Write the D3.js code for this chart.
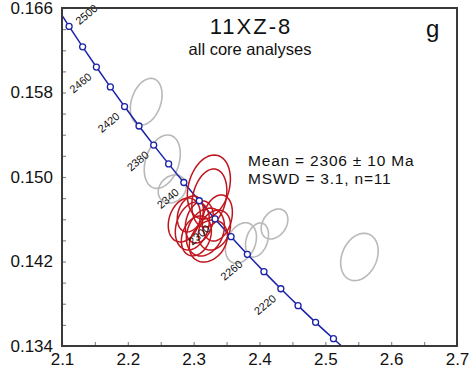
<!DOCTYPE html>
<html>
<head>
<meta charset="utf-8">
<script src="https://cdn.jsdelivr.net/npm/d3@7"></script>
<style>
  body { margin: 0; background: #fff; }
  svg { display: block; font-family: "Liberation Sans", Arial, sans-serif; }
</style>
</head>
<body>
<div id="chart"></div>
<script>
// concordia (Tera-Wasserburg): age in Ma, 238U/206Pb, 207Pb/206Pb
const concordiaAge = [2140, 2160, 2180, 2200, 2220, 2240, 2260, 2280, 2300, 2320,
  2340, 2360, 2380, 2400, 2420, 2440, 2460, 2480, 2500, 2520];
const concordiaX = [2.53996, 2.51232, 2.48520, 2.45857, 2.43242, 2.40674, 2.38155, 2.35679, 2.33246, 2.30855,
  2.28506, 2.26197, 2.23927, 2.21696, 2.19502, 2.17344, 2.15222, 2.13134, 2.11080, 2.09059];
const concordiaY = [0.13316, 0.13469, 0.13624, 0.13782, 0.13942, 0.14104, 0.14268, 0.14435, 0.14603, 0.14775,
  0.14948, 0.15124, 0.15302, 0.15483, 0.15667, 0.15853, 0.16041, 0.16232, 0.16426, 0.16623];
const labelAges = [2220, 2260, 2300, 2340, 2380, 2420, 2460, 2500];

// rejected analyses (grey): centre, half-width, half-height, correlation
const greyX = [2.2279, 2.2523, 2.2675, 2.3718, 2.3962, 2.4228, 2.5518];
const greyY = [0.15713, 0.15145, 0.14886, 0.14375, 0.14404, 0.14555, 0.14243];
const greySx = [0.0241, 0.0274, 0.0213, 0.0236, 0.0175, 0.0203, 0.0285];
const greySy = [0.00221, 0.00253, 0.00133, 0.00192, 0.00161, 0.00142, 0.00224];
const greyRho = [0.3, 0.3, 0.2, 0.3, 0.3, 0.3, 0.25];

// analyses used in the mean (red)
const redX = [2.3231, 2.3238, 2.2858, 2.2980, 2.3086, 2.3360, 2.3178, 2.3223, 2.3041, 2.3315, 2.2949];
const redY = [0.14905, 0.14801, 0.14593, 0.14536, 0.14574, 0.14612, 0.14479, 0.14394, 0.14442, 0.14498, 0.14650];
const redSx = [0.0327, 0.0266, 0.0244, 0.0259, 0.0213, 0.0228, 0.0289, 0.0289, 0.0228, 0.0244, 0.0198];
const redSy = [0.00303, 0.00275, 0.00208, 0.00227, 0.00199, 0.00218, 0.00227, 0.00199, 0.00189, 0.00189, 0.00170];
const redRho = [0.25, 0.25, 0.25, 0.25, 0.25, 0.25, 0.25, 0.25, 0.25, 0.25, 0.25];

// axis ticks
const xMajor = [2.1, 2.2, 2.3, 2.4, 2.5, 2.6, 2.7];
const xMinor = [2.15, 2.25, 2.35, 2.45, 2.55, 2.65];
const yMajor = [0.134, 0.142, 0.150, 0.158, 0.166];
const yMinor = [0.136, 0.138, 0.140, 0.144, 0.146, 0.148, 0.152, 0.154, 0.156, 0.160, 0.162, 0.164];

const titleText = "11XZ-8";
const subtitleText = "all core analyses";
const panelText = "g";
const statLines = ["Mean = 2306 \u00b1 10 Ma", "MSWD = 3.1, n=11"];

const width = 470;
const height = 372;
const margin = { top: 8, right: 13, bottom: 26, left: 62 };

const svg = d3.select("#chart")
  .append("svg")
  .attr("width", width)
  .attr("height", height);

const xScale = d3.scaleLinear()
  .domain([2.1, 2.7])
  .range([margin.left, width - margin.right]);

const yScale = d3.scaleLinear()
  .domain([0.134, 0.166])
  .range([height - margin.bottom, margin.top]);

// clip everything to the plot box
svg.append("clipPath")
  .attr("id", "plot-clip")
  .append("rect")
  .attr("x", margin.left)
  .attr("y", margin.top)
  .attr("width", width - margin.left - margin.right)
  .attr("height", height - margin.top - margin.bottom);

// ticks (inward) with labels on the major ones
const fmtY = d3.format(".3f");
svg.append("g")
  .attr("class", "y-axis")
  .attr("transform", `translate(${margin.left},0)`)
  .call(d3.axisLeft(yScale)
    .tickValues(yMajor.concat(yMinor))
    .tickSize(-4)
    .tickPadding(9)
    .tickFormat((d) => (yMajor.includes(d) ? fmtY(d) : "")))
  .call((g) => g.select(".domain").remove())
  .call((g) => g.selectAll("line").attr("stroke", "#8a8a8a").attr("stroke-width", 1.2))
  .call((g) => g.selectAll("text")
    .attr("fill", "#111")
    .attr("font-size", 17)
    .attr("font-family", "Liberation Sans, Arial, sans-serif"));

svg.append("g")
  .attr("class", "x-axis")
  .attr("transform", `translate(0,${height - margin.bottom})`)
  .call(d3.axisBottom(xScale)
    .tickValues(xMajor.concat(xMinor))
    .tickSize(-4)
    .tickPadding(7)
    .tickFormat((d) => (xMajor.includes(d) ? d3.format(".1f")(d) : "")))
  .call((g) => g.select(".domain").remove())
  .call((g) => g.selectAll("line").attr("stroke", "#8a8a8a").attr("stroke-width", 1.2))
  .call((g) => g.selectAll("text")
    .attr("fill", "#111")
    .attr("font-size", 17)
    .attr("font-family", "Liberation Sans, Arial, sans-serif"));

const plot = svg.append("g").attr("clip-path", "url(#plot-clip)");

// error ellipse as a closed path in data space
const ellipsePath = (cx, cy, sx, sy, rho) => {
  const pts = d3.range(0, 73).map((i) => {
    const t = (i / 72) * 2 * Math.PI;
    const dx = sx * Math.cos(t);
    const dy = sy * (rho * Math.cos(t) + Math.sqrt(1 - rho * rho) * Math.sin(t));
    return [xScale(cx + dx), yScale(cy + dy)];
  });
  return d3.line()(pts) + "Z";
};

plot.selectAll(".grey-ellipse")
  .data(greyX.map((x, i) => ({ x, y: greyY[i], sx: greySx[i], sy: greySy[i], rho: greyRho[i] })))
  .enter()
  .append("path")
  .attr("class", "grey-ellipse")
  .attr("fill", "none")
  .attr("stroke", "#b9b9b9")
  .attr("stroke-width", 1.6)
  .attr("d", (d) => ellipsePath(d.x, d.y, d.sx, d.sy, d.rho));

// concordia curve
const concordia = concordiaAge.map((age, i) => ({ age, x: concordiaX[i], y: concordiaY[i] }));
plot.append("path")
  .datum(concordia)
  .attr("fill", "none")
  .attr("stroke", "#1a22a8")
  .attr("stroke-width", 1.5)
  .attr("d", d3.line()
    .x((d) => xScale(d.x))
    .y((d) => yScale(d.y))
    .curve(d3.curveCatmullRom));

plot.selectAll(".red-ellipse")
  .data(redX.map((x, i) => ({ x, y: redY[i], sx: redSx[i], sy: redSy[i], rho: redRho[i] })))
  .enter()
  .append("path")
  .attr("class", "red-ellipse")
  .attr("fill", "none")
  .attr("stroke", "#c0141c")
  .attr("stroke-width", 1.5)
  .attr("d", (d) => ellipsePath(d.x, d.y, d.sx, d.sy, d.rho));

// age markers on the concordia
const inside = concordia.filter((d) => d.x >= 2.1 && d.x <= 2.7 && d.y >= 0.134 && d.y <= 0.166);
plot.selectAll(".age-dot")
  .data(inside)
  .enter()
  .append("circle")
  .attr("class", "age-dot")
  .attr("cx", (d) => xScale(d.x))
  .attr("cy", (d) => yScale(d.y))
  .attr("r", 3)
  .attr("fill", "#fff")
  .attr("stroke", "#1a22a8")
  .attr("stroke-width", 1.3);

// age labels, turned across the curve
svg.selectAll(".age-label")
  .data(concordia.filter((d) => labelAges.includes(d.age)))
  .enter()
  .append("text")
  .attr("class", "age-label")
  .attr("font-size", 11)
  .attr("fill", "#111")
  .attr("dy", "0.35em")
  .attr("text-anchor", (d) => (xScale(d.x) - 25 < margin.left ? "start" : "end"))
  .attr("transform", (d) => {
    const px = xScale(d.x);
    const py = yScale(d.y);
    return px - 25 < margin.left
      ? `translate(${px + 8},${py - 4}) rotate(-40)`
      : `translate(${px - 6.5},${py + 8}) rotate(-40)`;
  })
  .text((d) => d.age);

// frame
svg.append("rect")
  .attr("x", margin.left)
  .attr("y", margin.top)
  .attr("width", width - margin.left - margin.right)
  .attr("height", height - margin.top - margin.bottom)
  .attr("fill", "none")
  .attr("stroke", "#3a3a3a")
  .attr("stroke-width", 2);

// annotations
svg.append("text")
  .attr("x", 251)
  .attr("y", 34)
  .attr("text-anchor", "middle")
  .attr("font-size", 22)
  .attr("letter-spacing", 2)
  .attr("fill", "#111")
  .text(titleText);

svg.append("text")
  .attr("x", 250)
  .attr("y", 55)
  .attr("text-anchor", "middle")
  .attr("font-size", 16.5)
  .attr("fill", "#111")
  .text(subtitleText);

svg.append("text")
  .attr("x", 426)
  .attr("y", 37)
  .attr("font-size", 24)
  .attr("fill", "#111")
  .text(panelText);

svg.selectAll(".stat")
  .data(statLines)
  .enter()
  .append("text")
  .attr("class", "stat")
  .attr("x", 248)
  .attr("y", (d, i) => 166 + i * 17.5)
  .attr("font-size", 15.5)
  .attr("letter-spacing", 0.8)
  .attr("fill", "#111")
  .text((d) => d);
</script>
</body>
</html>
